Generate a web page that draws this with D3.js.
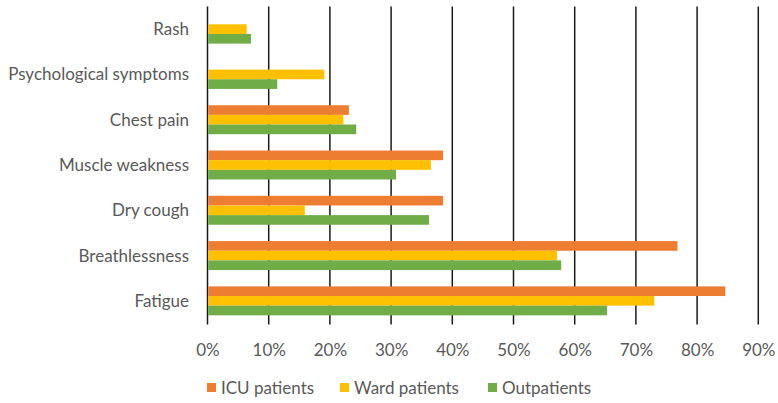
<!DOCTYPE html>
<html><head><meta charset="utf-8">
<script src="https://cdn.jsdelivr.net/npm/d3@7"></script>
<style>
html,body{margin:0;padding:0;background:#fff;}
svg{display:block;}
text{font-family:Lato,"Open Sans",sans-serif;fill:#595959;}
</style></head>
<body><svg id="chart" width="778" height="403"></svg>
<script>
const categories = ["Rash","Psychological symptoms","Chest pain","Muscle weakness","Dry cough","Breathlessness","Fatigue"];
const seriesNames = ["ICU patients","Ward patients","Outpatients"];
const icuValues = [0, 0, 23.1, 38.5, 38.5, 76.8, 84.6];
const wardValues = [6.4, 19.1, 22.2, 36.5, 15.9, 57.1, 73.0];
const outValues = [7.1, 11.4, 24.3, 30.8, 36.2, 57.8, 65.3];
const xTicks = [0,10,20,30,40,50,60,70,80,90];
const colors = ["#ED7D31","#FFC000","#70AD47"];

const series = [icuValues, wardValues, outValues];
const svg = d3.select("#chart");
const pLeft = 207.5, pRight = 758.3, pTop = 6.5, pBottom = 323.5;
const fs = 17;

const x = d3.scaleLinear().domain([0,90]).range([pLeft,pRight]);
const y = d3.scaleBand().domain(categories).range([pTop,pBottom]).paddingInner(0.36).paddingOuter(0.18);
const ySub = d3.scaleBand().domain(seriesNames).range([0,y.bandwidth()]);

// gridlines
svg.append("g").selectAll("line").data(xTicks).join("line")
  .attr("x1",d=>x(d)).attr("x2",d=>x(d))
  .attr("y1",pTop).attr("y2",pBottom+1)
  .attr("stroke","#1a1a1a").attr("stroke-width",1.5);

// bars
const g = svg.append("g");
series.forEach((vals,si)=>{
  g.selectAll(null).data(categories).join("rect")
    .attr("x",x(0)+0.75)
    .attr("y",c=>y(c)+ySub(seriesNames[si]))
    .attr("width",(c,i)=>Math.max(0,x(vals[i])-x(0)-0.75))
    .attr("height",ySub.bandwidth())
    .attr("fill",colors[si]);
});

// x axis labels
const xAxis = d3.axisBottom(x).tickValues(xTicks).tickFormat(d=>d+"%").tickSize(0).tickPadding(0);
const xa = svg.append("g").attr("transform",`translate(0,${pBottom})`).call(xAxis);
xa.select(".domain").remove();
xa.selectAll("text").attr("font-size",fs).attr("dy",null).attr("y",32).attr("font-family",null);

// y axis labels
const yAxis = d3.axisLeft(y).tickSize(0).tickPadding(0);
const ya = svg.append("g").attr("transform",`translate(189,0)`).call(yAxis);
ya.select(".domain").remove();
ya.selectAll("text").attr("font-size",fs).attr("font-family",null).attr("dy","0.35em");

// legend
const legendX = [207,340,488];
const lg = svg.append("g");
seriesNames.forEach((n,i)=>{
  const it = lg.append("g").attr("transform",`translate(${legendX[i]},388)`);
  it.append("rect").attr("x",0).attr("y",-5).attr("width",9).attr("height",9).attr("fill",colors[i]);
  it.append("text").attr("x",14).attr("y",0).attr("dy","0.35em").attr("font-size",fs).text(n);
});
</script></body></html>
